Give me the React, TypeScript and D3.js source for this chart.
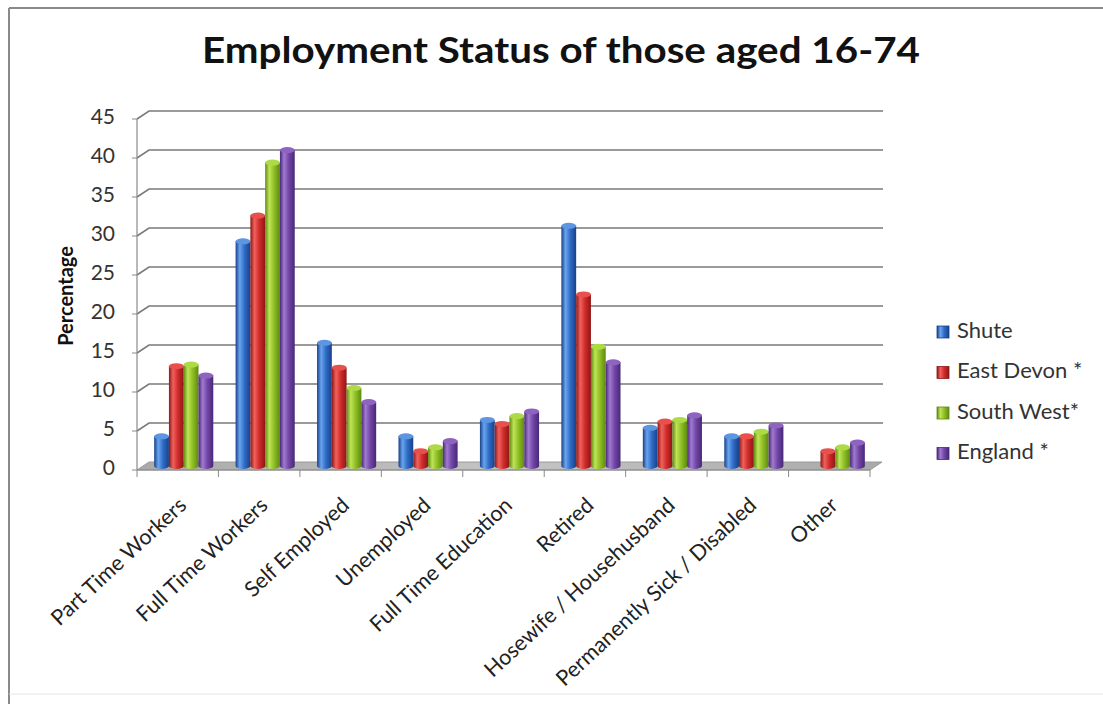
import React from "react";
import * as d3 from "d3";

const categories = [
  "Part Time Workers",
  "Full Time Workers",
  "Self Employed",
  "Unemployed",
  "Full Time Education",
  "Retired",
  "Hosewife / Househusband",
  "Permanently Sick / Disabled",
  "Other",
];
const seriesNames = ["Shute", "East Devon *", "South West*", "England *"];
const shute = [3.8, 28.8, 15.8, 3.8, 5.9, 30.8, 4.9, 3.8, 0];
const eastDevon = [12.8, 32.1, 12.6, 1.9, 5.4, 22.0, 5.7, 3.8, 1.9];
const southWest = [13.0, 38.9, 10.0, 2.4, 6.4, 15.3, 5.9, 4.4, 2.4];
const england = [11.6, 40.5, 8.2, 3.2, 7.0, 13.3, 6.5, 5.2, 3.0];
const yTicks = [0, 5, 10, 15, 20, 25, 30, 35, 40, 45];
const title = "Employment Status of those aged 16-74";
const yTitle = "Percentage";

const seriesValues = [shute, eastDevon, southWest, england];
const palette = [
  { base: "#2f6cc6", light: "#6aa4ee", dark: "#17418a", top: "#5d95e0" },
  { base: "#d02b2b", light: "#f0625c", dark: "#8e1616", top: "#e8504c" },
  { base: "#8fbf25", light: "#bfe456", dark: "#5f8a12", top: "#addb45" },
  { base: "#7146a6", light: "#a07ad0", dark: "#482877", top: "#8e64c0" },
];

const W = 1103;
const H = 704;
const FONT = "Lato, 'Open Sans', sans-serif";

export default function App() {
  const x0 = 137;
  const x1 = 870;
  const depthX = 12;
  const depthY = -8;
  const yFront = d3.scaleLinear().domain([0, 45]).range([470, 119]);
  const yBack = (v: number) => yFront(v) + depthY;
  const yMid = (v: number) => yFront(v) + depthY / 2;

  const xBand = d3.scaleBand<string>().domain(categories).range([x0, x1]).padding(0);
  const bw = xBand.bandwidth();
  const inner = d3
    .scaleBand<string>()
    .domain(seriesNames)
    .range([bw * 0.137, bw * 0.863])
    .padding(0);
  const w = inner.bandwidth();

  const cyl = (x: number, t: number, b: number, wd: number) => {
    const rx = wd / 2;
    const ry = 3;
    return `M${x},${t} L${x},${b} A${rx},${ry} 0 0 0 ${x + wd},${b} L${x + wd},${t} Z`;
  };

  return (
    <svg
      width={W}
      height={H}
      style={{ position: "absolute", left: 0, top: 0, background: "#fff" }}
    >
      <defs>
        {palette.map((p, i) => (
          <linearGradient id={`g${i}`} key={i} x1="0" x2="1" y1="0" y2="0">
            <stop offset="0" stopColor={p.dark} />
            <stop offset="0.28" stopColor={p.light} />
            <stop offset="0.6" stopColor={p.base} />
            <stop offset="1" stopColor={p.dark} />
          </linearGradient>
        ))}
        <linearGradient id="floor" x1="0" x2="1" y1="0" y2="0">
          <stop offset="0" stopColor="#a9a9a9" />
          <stop offset="0.5" stopColor="#c4c4c4" />
          <stop offset="1" stopColor="#a9a9a9" />
        </linearGradient>
      </defs>
      <rect x={0} y={0} width={W} height={H} fill="#fff" />
      {/* frame */}
      <line x1={9} y1={8} x2={W} y2={8} stroke="#8a8a8a" strokeWidth={2} />
      <line x1={9} y1={8} x2={9} y2={H} stroke="#8a8a8a" strokeWidth={2} />
      <line x1={9} y1={694} x2={W} y2={694} stroke="#e4e4e4" strokeWidth={1} />

      {/* title */}
      <text
        x={202}
        y={63}
        fontFamily={FONT}
        fontWeight={700}
        fontSize={37}
        fill="#111"
        textLength={718}
        lengthAdjust="spacingAndGlyphs"
      >
        {title}
      </text>

      {/* floor */}
      <polygon
        points={`${x0},${yFront(0)} ${x1},${yFront(0)} ${x1 + depthX},${yBack(0)} ${x0 + depthX},${yBack(0)}`}
        fill="url(#floor)"
        stroke="#9a9a9a"
        strokeWidth={1}
      />

      {/* gridlines */}
      {yTicks
        .filter((v) => v > 0)
        .map((v) => (
          <polyline
            key={v}
            points={`${x0},${yFront(v)} ${x0 + depthX},${yBack(v)} ${x1 + depthX + 1},${yBack(v)}`}
            fill="none"
            stroke="#7a7a7a"
            strokeWidth={1.6}
          />
        ))}

      {/* y axis */}
      <line x1={x0} y1={yFront(0)} x2={x0} y2={yFront(45)} stroke="#8a8a8a" strokeWidth={1.2} />
      {yTicks.map((v) => (
        <g key={v}>
          <line x1={x0 - 5} x2={x0} y1={yFront(v)} y2={yFront(v)} stroke="#8a8a8a" />
          <text
            x={115}
            y={yFront(v)}
            textAnchor="end"
            dominantBaseline="middle"
            fontFamily={FONT}
            fontSize={21}
            fill="#333"
          >
            {v}
          </text>
        </g>
      ))}
      <text
        transform={`translate(68,296) rotate(-90)`}
        textAnchor="middle"
        dominantBaseline="middle"
        fontFamily={FONT}
        fontWeight={700}
        fontSize={20}
        fill="#111"
      >
        {yTitle}
      </text>

      {/* x axis */}
      <line x1={x0} y1={yFront(0)} x2={x1} y2={yFront(0)} stroke="#8a8a8a" strokeWidth={1.2} />
      {[...categories.map((c) => xBand(c) as number), x1].map((xx, i) => (
        <line key={i} x1={xx} x2={xx} y1={yFront(0)} y2={yFront(0) + 7} stroke="#8a8a8a" />
      ))}

      {/* bars */}
      {categories.map((c, ci) => (
        <g key={c}>
          {seriesNames.map((s, si) => {
            const v = seriesValues[si][ci];
            if (!v) return null;
            const bx = (xBand(c) as number) + (inner(s) as number) + depthX / 2;
            const t = yMid(v);
            const b = yMid(0);
            return (
              <g key={s}>
                <path d={cyl(bx, t, b, w)} fill={`url(#g${si})`} />
                <ellipse cx={bx + w / 2} cy={t} rx={w / 2} ry={3} fill={palette[si].top} />
              </g>
            );
          })}
        </g>
      ))}

      {/* category labels */}
      {categories.map((c) => {
        const cx = (xBand(c) as number) + bw / 2;
        return (
          <text
            key={c}
            transform={`translate(${cx + 10},${507}) rotate(-43)`}
            textAnchor="end"
            fontFamily={FONT}
            fontSize={21.5}
            fill="#222"
          >
            {c}
          </text>
        );
      })}

      {/* legend */}
      {seriesNames.map((s, i) => {
        const cy = 332 + i * 40.5;
        return (
          <g key={s}>
            <rect
              x={937}
              y={cy - 6}
              width={12}
              height={12}
              fill={`url(#g${i})`}
              stroke={palette[i].dark}
              strokeWidth={0.8}
            />
            <text
              x={957}
              y={cy}
              dominantBaseline="middle"
              fontFamily={FONT}
              fontSize={22}
              fill="#333"
            >
              {s}
            </text>
          </g>
        );
      })}
    </svg>
  );
}
